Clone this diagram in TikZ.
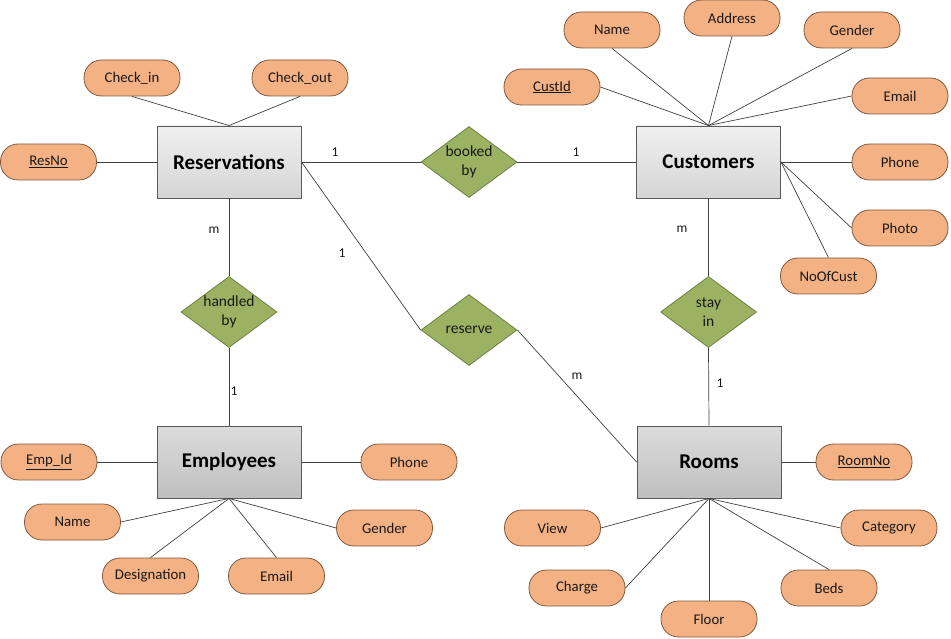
\documentclass[tikz,border=0pt]{standalone}
\usepackage{fontspec}
\setmainfont{Carlito}
\usetikzlibrary{shapes.geometric,shadings}
\definecolor{attrfill}{HTML}{F4B183}
\definecolor{attrdraw}{HTML}{7F5A3F}
\definecolor{relfill}{HTML}{9BB262}
\definecolor{reldraw}{HTML}{6E8040}
\definecolor{boxdraw}{HTML}{5A5A5A}
\definecolor{linec}{HTML}{404040}
\tikzset{
  entA/.style={draw=boxdraw, line width=0.9pt, top color=gray!12, bottom color=gray!33,
    minimum width=144pt, minimum height=72pt, inner sep=0pt,
    font=\fontsize{21}{24}\selectfont\bfseries},
  entB/.style={entA, top color=gray!28, bottom color=gray!50},
  attr/.style={draw=attrdraw, line width=0.8pt, fill=attrfill, rounded corners=17.5pt,
    minimum width=96pt, minimum height=36pt, inner sep=0pt,
    font=\fontsize{14.8}{17}\selectfont, text=black!90},
  rel/.style={diamond, draw=reldraw, line width=0.8pt, fill=relfill, aspect=1.35,
    minimum width=96pt, minimum height=71pt, inner sep=0pt, align=center,
    font=\fontsize{15.5}{19}\selectfont, text=black!90},
  conn/.style={draw=linec, line width=0.7pt},
  card/.style={font=\fontsize{13.5}{15}\selectfont, text=black!90, inner sep=0pt}
}
\begin{document}
\begin{tikzpicture}[x=1pt,y=-1pt]
\useasboundingbox (0,0) rectangle (951,639);
% entities
\node[entA] (res) at (229,162) {Reservations};
\node[entA] (cus) at (708.5,162) {Customers};
\node[entB] (emp) at (229,462) {Employees};
\node[entB] (room) at (709,462) {Rooms};
% relationships
\node[rel] (booked) at (469,162) {booked\\by};
\node[rel] (handled) at (229,312) {handled\\by};
\node[rel] (reserve) at (469,330) {reserve};
\node[rel] (stay) at (708.5,312) {stay\\in};
% reservation attributes
\node[attr] (checkin) at (132,78) {Check\_in};
\node[attr] (checkout) at (300,78) {Check\_out};
\node[attr] (resno) at (48.5,162) {\underline{ResNo}};
% customer attributes
\node[attr] (cname) at (612,30) {Name};
\node[attr] (caddr) at (732,18) {Address};
\node[attr] (cgender) at (852,30) {Gender};
\node[attr] (custid) at (552,87) {\underline{CustId}};
\node[attr] (cemail) at (900,96) {Email};
\node[attr] (cphone) at (900,162) {Phone};
\node[attr] (cphoto) at (900,228) {Photo};
\node[attr] (nocust) at (828.5,276) {NoOfCust};
% employee attributes
\node[attr] (empid) at (49,462) {\underline{Emp\_Id}};
\node[attr] (ephone) at (409,462) {Phone};
\node[attr] (ename) at (72.5,522) {Name};
\node[attr] (egender) at (384.5,528) {Gender};
\node[attr] (edesig) at (150.5,576) {Designation};
\node[attr] (eemail) at (276.5,576) {Email};
% room attributes
\node[attr] (roomno) at (864,462) {\underline{RoomNo}};
\node[attr] (view) at (552.5,528) {View};
\node[attr] (category) at (889,528) {Category};
\node[attr] (charge) at (577,588) {Charge};
\node[attr] (beds) at (829,588) {Beds};
\node[attr] (floor) at (709,619) {Floor};
% relationship connectors
\path[conn] (res.east) -- (booked.west);
\path[conn] (booked.east) -- (cus.west);
\path[conn] (res.south) -- (handled.north);
\path[conn] (handled.south) -- (emp.north);
\path[conn] (cus.south) -- (stay.north);
\path[conn] (stay.south) -- (room.north);
\path[conn] (res.east) -- (reserve.west);
\path[conn] (reserve.east) -- (room.west);
% attribute connectors
\path[conn] (res.north) -- (checkin.south);
\path[conn] (res.north) -- (checkout.south);
\path[conn] (res.west) -- (resno.east);
\path[conn] (cus.north) -- (custid.east);
\path[conn] (cus.north) -- (cname.south);
\path[conn] (cus.north) -- (caddr.south);
\path[conn] (cus.north) -- (cgender.south);
\path[conn] (cus.north) -- (cemail.west);
\path[conn] (cus.east) -- (cphone.west);
\path[conn] (cus.east) -- (cphoto.west);
\path[conn] (cus.east) -- (nocust.north);
\path[conn] (emp.west) -- (empid.east);
\path[conn] (emp.east) -- (ephone.west);
\path[conn] (emp.south) -- (ename.east);
\path[conn] (emp.south) -- (edesig.north);
\path[conn] (emp.south) -- (eemail.north);
\path[conn] (emp.south) -- (egender.west);
\path[conn] (room.east) -- (roomno.west);
\path[conn] (room.south) -- (view.east);
\path[conn] (room.south) -- (charge.east);
\path[conn] (room.south) -- (floor.north);
\path[conn] (room.south) -- (beds.north);
\path[conn] (room.south) -- (category.west);
% cardinalities
\node[card] (c1) at (335,152) {1};
\node[card] (c2) at (576,152) {1};
\node[card] (c3) at (214,230) {m};
\node[card] (c4) at (234,391) {1};
\node[card] (c5) at (342,253) {1};
\node[card] (c6) at (682,229) {m};
\node[card] (c7) at (720,383) {1};
\node[card] (c8) at (577,376) {m};
\end{tikzpicture}
\end{document}
